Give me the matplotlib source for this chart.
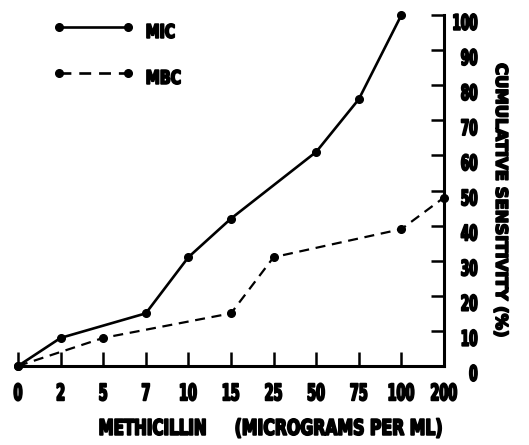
import matplotlib
matplotlib.use('Agg')
from matplotlib import pyplot as plt
from matplotlib.lines import Line2D
from matplotlib.textpath import TextPath
from matplotlib.patches import PathPatch
from matplotlib.font_manager import FontProperties
from matplotlib.transforms import Affine2D

# category labels on the x axis (micrograms per ml)
doses = ['0', '2', '5', '7', '10', '15', '25', '50', '75', '100', '200']

# MIC: cumulative sensitivity (%) at each dose that has a point
mic_doses = ['0', '2', '7', '10', '15', '50', '75', '100']
mic_vals = [0, 8, 15, 31, 42, 61, 76, 100]

# MBC
mbc_doses = ['0', '5', '15', '25', '100', '200']
mbc_vals = [0, 8, 15, 31, 39, 48]

yticks = [0, 10, 20, 30, 40, 50, 60, 70, 80, 90, 100]

W, H = 529, 445
FP = FontProperties(family='DejaVu Sans', weight='bold')
CAP = 72.9  # cap height of DejaVu Sans at size 100
STROKE = 1.3  # extra outline to get the heavy poster look (points)
GROW = STROKE * 100 / 72  # pixels the outline adds to the ink size


def squeezed(fig, s, x, y, cap, sx=0.56, width=None, ha='center', va='center', rot=0):
    # draw narrow heavy text as a path, x/y in pixels from top-left
    tp = TextPath((0, 0), s, size=100, prop=FP)
    ext = tp.get_extents()
    k = (cap - GROW) / CAP
    if width is not None:
        sx = (width - GROW) / ((ext.x1 - ext.x0) * k)
    xo = {'left': -ext.x0, 'center': -(ext.x0 + ext.x1) / 2, 'right': -ext.x1}[ha]
    yo = {'bottom': 0, 'center': -CAP / 2, 'top': -CAP}[va]
    tr = Affine2D().translate(xo, yo).scale(k * sx, k).rotate_deg(rot).translate(x, H - y)
    fig.add_artist(PathPatch(tp, transform=tr, facecolor='black', edgecolor='black',
                             lw=STROKE, joinstyle='round'))


fig = plt.figure(figsize=(W / 100, H / 100), dpi=100)
ax = fig.add_axes([18 / W, (H - 366) / H, (444 - 18) / W, (366 - 15) / H])

pos = {d: i for i, d in enumerate(doses)}
mic_x = [pos[d] for d in mic_doses]
mbc_x = [pos[d] for d in mbc_doses]

DASH = (0, (4.5, 3))
ax.plot(mic_x, mic_vals, color='black', lw=1.9, marker='o', ms=5.5, clip_on=False, zorder=3)
ax.plot(mbc_x, mbc_vals, color='black', lw=1.6, ls=DASH, marker='o', ms=5.5,
        clip_on=False, zorder=3)

ax.set_xlim(0, len(doses) - 1)
ax.set_ylim(0, 100)

for s in ['top', 'left']:
    ax.spines[s].set_visible(False)
for s in ['bottom', 'right']:
    ax.spines[s].set_linewidth(2.2)

ax.yaxis.tick_right()
ax.set_yticks(yticks)
ax.set_yticklabels([])
ax.tick_params(axis='y', direction='in', length=9.5, width=1.8)
ax.set_xticks(range(len(doses)))
ax.set_xticklabels([])
ax.tick_params(axis='x', direction='in', length=10, width=1.8)

# tick labels, placed through the axes transform
for i, d in enumerate(doses):
    px, _ = ax.transData.transform((i, 0))
    squeezed(fig, d, px, 392, 18.5)
for v in yticks:
    _, py = ax.transData.transform((0, v))
    squeezed(fig, str(v), 477, H - py + 7, 17.5, ha='right')

# legend drawn by hand
for y, ls, name, w in [(27, '-', 'MIC', 29), (73, DASH, 'MBC', 35)]:
    yf = 1 - y / H
    fig.add_artist(Line2D([59 / W, 128 / W], [yf, yf], color='black', lw=1.9, ls=ls,
                          marker='o', ms=5.5, transform=fig.transFigure))
    squeezed(fig, name, 147, y + 4, 15.5, width=w, ha='left')

squeezed(fig, 'METHICILLIN', 100, 427, 17.5, width=107, ha='left')
squeezed(fig, '(MICROGRAMS PER ML)', 236, 427, 17.5, width=207, ha='left')
squeezed(fig, 'CUMULATIVE SENSITIVITY (%)', 502, 200, 13.5, width=274, rot=270)

plt.savefig('out.png', dpi=100)
